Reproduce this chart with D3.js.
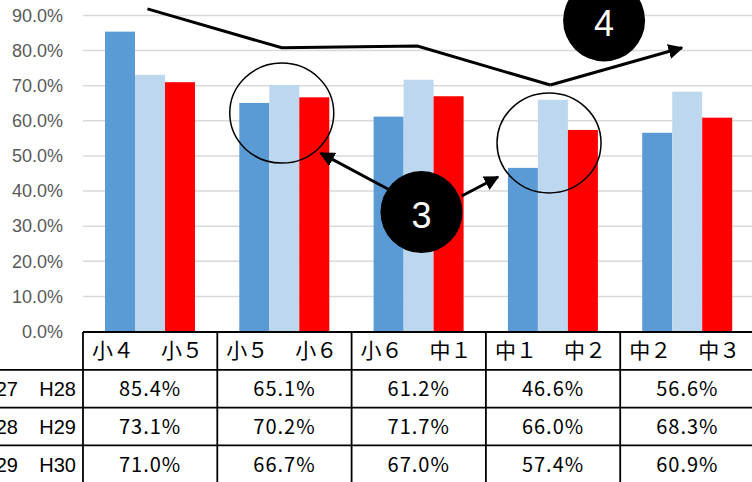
<!DOCTYPE html>
<html>
<head>
<meta charset="utf-8">
<script src="https://cdn.jsdelivr.net/npm/d3@7"></script>
<style>
  body { margin: 0; background: #fff; }
  svg { display: block; }
</style>
</head>
<body>
<div id="vis"></div>
<script>
// grade pairs (from -> to) for each column
var gradeFrom = ["小４", "小５", "小６", "中１", "中２"];
var gradeTo = ["小５", "小６", "中１", "中２", "中３"];

// survey years, one row per series
var yearFrom = ["H27", "H28", "H29"];
var yearTo = ["H28", "H29", "H30"];

var valsH28 = [85.4, 65.1, 61.2, 46.6, 56.6];
var valsH29 = [73.1, 70.2, 71.7, 66.0, 68.3];
var valsH30 = [71.0, 66.7, 67.0, 57.4, 60.9];

var yTicks = [0, 10, 20, 30, 40, 50, 60, 70, 80, 90];

// annotations in data units: [category index, percent]
var trendPoints = [[-0.02, 91.9], [0.98, 80.8], [1.99, 81.3], [2.98, 70.2]];
var trendArrowEnd = [3.96, 80.8];
var highlightCircles = [[0.98, 62.2], [2.97, 53.7]];
var badge3 = [2.02, 34.0];
var badge3Arrows = [[[1.77, 40.6], [1.27, 50.8]], [[2.32, 38.6], [2.59, 44.0]]];
var badge4 = [3.38, 88.6];

var series = [
  {name: "H28", vals: valsH28, color: "#5b9bd5"},
  {name: "H29", vals: valsH29, color: "#bdd7ee"},
  {name: "H30", vals: valsH30, color: "#ff0000"}
];

var W = 752, H = 482;
var left = 83, colW = 134.3;
var rowTop = 332, rowH = 37.8;

var svg = d3.select("#vis").append("svg").attr("width", W).attr("height", H);

var cats = d3.range(gradeFrom.length);
var x = d3.scaleBand().domain(cats).range([left, left + colW * cats.length]);
var xi = d3.scaleLinear().domain([-0.5, cats.length - 0.5]).range([left, left + colW * cats.length]);
var xs = d3.scaleBand().domain(series.map(s => s.name)).range([22, 112]);
var y = d3.scaleLinear().domain([0, 90]).range([331.5, 15.5]);

// gridlines
svg.append("g").selectAll("line").data(yTicks.slice(1)).join("line")
  .attr("x1", left).attr("x2", W)
  .attr("y1", d => y(d)).attr("y2", d => y(d))
  .attr("stroke", "#d9d9d9").attr("stroke-width", 1.5);

// y labels
svg.append("g").selectAll("text").data(yTicks).join("text")
  .attr("x", 63).attr("y", d => y(d))
  .attr("text-anchor", "end").attr("dy", "0.35em")
  .attr("font-family", "Liberation Sans, Arial, sans-serif")
  .attr("font-size", 18).attr("fill", "#595959")
  .text(d => d3.format(".1f")(d) + "%");

// bars
series.forEach(s => {
  svg.append("g").selectAll("rect").data(s.vals).join("rect")
    .attr("x", (d, i) => x(i) + xs(s.name))
    .attr("width", xs.bandwidth())
    .attr("y", d => y(d))
    .attr("height", d => y(0) - y(d))
    .attr("fill", s.color);
});

// table
var tbl = svg.append("g").attr("stroke", "#000").attr("stroke-width", 1.8);
tbl.append("line").attr("x1", left).attr("x2", W).attr("y1", rowTop).attr("y2", rowTop);
for (var r = 1; r <= 3; r++) {
  tbl.append("line").attr("x1", 0).attr("x2", W)
    .attr("y1", rowTop + r * rowH).attr("y2", rowTop + r * rowH);
}
tbl.selectAll("line.v").data(d3.range(cats.length + 1)).join("line")
  .attr("class", "v")
  .attr("x1", d => left + d * colW).attr("x2", d => left + d * colW)
  .attr("y1", rowTop).attr("y2", H);

var jp = "Noto Sans CJK JP, sans-serif";
// header row
svg.append("g").selectAll("text").data(gradeFrom).join("text")
  .attr("x", (d, i) => x(i) + 9).attr("y", rowTop + rowH / 2)
  .attr("dy", "0.36em").attr("font-family", jp).attr("font-size", 21)
  .text(d => d);
svg.append("g").selectAll("text").data(gradeTo).join("text")
  .attr("x", (d, i) => x(i) + 78).attr("y", rowTop + rowH / 2)
  .attr("dy", "0.36em").attr("font-family", jp).attr("font-size", 21)
  .text(d => d);

// value rows
series.forEach((s, r) => {
  var cy = rowTop + (r + 1.5) * rowH;
  svg.append("g").selectAll("text").data(s.vals).join("text")
    .attr("x", (d, i) => x(i) + x.bandwidth() / 2).attr("y", cy)
    .attr("dy", "0.36em").attr("text-anchor", "middle")
    .attr("font-family", jp).attr("font-size", 20).attr("letter-spacing", 1)
    .text(d => d3.format(".1f")(d) + "%");
  var lab = svg.append("g").attr("font-family", "Liberation Sans Narrow, Liberation Sans, sans-serif")
    .attr("font-size", 20).attr("text-anchor", "end");
  lab.append("text").attr("x", 18).attr("y", cy).attr("dy", "0.36em").text(yearFrom[r]);
  lab.append("text").attr("x", 76).attr("y", cy).attr("dy", "0.36em").text(yearTo[r]);
});

// annotations
var defs = svg.append("defs");
defs.append("marker").attr("id", "arr").attr("viewBox", "0 0 10 10")
  .attr("refX", 9).attr("refY", 5).attr("markerWidth", 5).attr("markerHeight", 5)
  .attr("markerUnits", "strokeWidth").attr("orient", "auto")
  .append("path").attr("d", "M0,0L10,5L0,10z").attr("fill", "#000");

var pt = p => [xi(p[0]), y(p[1])];

svg.append("path")
  .attr("d", d3.line()(trendPoints.map(pt)))
  .attr("fill", "none").attr("stroke", "#000").attr("stroke-width", 3);
svg.append("line")
  .attr("x1", pt(trendPoints[3])[0]).attr("y1", pt(trendPoints[3])[1])
  .attr("x2", pt(trendArrowEnd)[0]).attr("y2", pt(trendArrowEnd)[1])
  .attr("stroke", "#000").attr("stroke-width", 3).attr("marker-end", "url(#arr)");

svg.append("g").selectAll("ellipse").data(highlightCircles).join("ellipse")
  .attr("cx", d => xi(d[0])).attr("cy", d => y(d[1]))
  .attr("rx", 52).attr("ry", 50)
  .attr("fill", "none").attr("stroke", "#000").attr("stroke-width", 1.5);

svg.append("g").selectAll("line").data(badge3Arrows).join("line")
  .attr("x1", d => xi(d[0][0])).attr("y1", d => y(d[0][1]))
  .attr("x2", d => xi(d[1][0])).attr("y2", d => y(d[1][1]))
  .attr("stroke", "#000").attr("stroke-width", 3).attr("marker-end", "url(#arr)");

[[badge3, "3"], [badge4, "4"]].forEach(([b, t]) => {
  svg.append("circle").attr("cx", xi(b[0])).attr("cy", y(b[1])).attr("r", 41).attr("fill", "#000");
  svg.append("text").attr("x", xi(b[0])).attr("y", y(b[1]) + 3)
    .attr("text-anchor", "middle").attr("dy", "0.36em")
    .attr("font-family", "Liberation Sans, Arial, sans-serif").attr("font-size", 36)
    .attr("fill", "#fff").text(t);
});
</script>
</body>
</html>
